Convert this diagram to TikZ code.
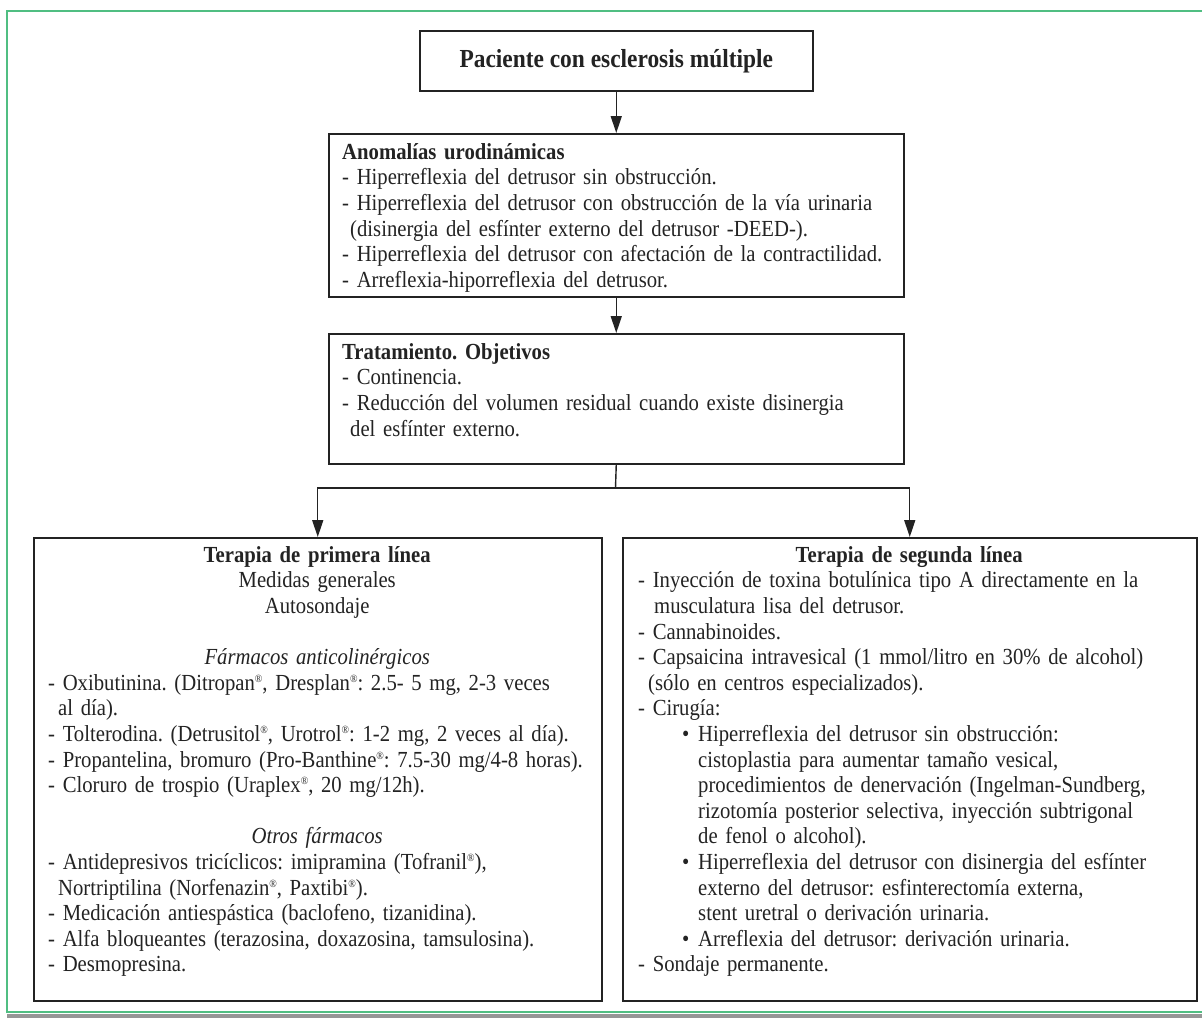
\documentclass[tikz,border=0pt]{standalone}
\usepackage{fontspec}
\setmainfont{Liberation Serif}[FakeStretch=0.9]
\usetikzlibrary{arrows.meta}
\definecolor{frameGreen}{RGB}{80,190,130}
\definecolor{bandGray}{RGB}{150,150,150}
\definecolor{ink}{RGB}{35,35,35}
\setlength{\parindent}{0pt}
\frenchspacing
\newcommand{\regsym}{\raisebox{0.75ex}{\fontsize{11}{11}\selectfont ®}}
\begin{document}
\begin{tikzpicture}[x=1pt,y=-1pt,
  box/.style={draw=ink, line width=1.5pt, fill=white, inner sep=0pt, anchor=north west},
  arr/.style={draw=ink, line width=1.4pt, -{Triangle[length=17pt,width=11pt]}},
  link/.style={draw=ink, line width=1.4pt},
  txt/.style={anchor=north west, inner sep=0pt, align=left, text=ink,
              font=\fontsize{23}{25.6}\selectfont}]
\fill[white] (0,0) rectangle (1202,1018);
\useasboundingbox (0,0) rectangle (1202,1018);
% frame
\draw[frameGreen, line width=2pt] (1202,11) -- (7,11) -- (7,1012) -- (1202,1012);
\fill[bandGray] (7,1013.5) rectangle (1202,1018);

% boxes
\node[box, minimum width=393pt, minimum height=60pt] (top) at (419,30) {};
\node[anchor=center, inner sep=0pt, text=ink, font=\bfseries\fontsize{26}{30}\selectfont] (toptext) at (top.center) {Paciente con esclerosis múltiple};

\node[box, minimum width=575pt, minimum height=163pt] (anom) at (328,133) {};
\node[txt, text width=555pt] (anomtext) at (342,142) {\rule{0pt}{17pt}\textbf{Anomalías urodinámicas}\\
- Hiperreflexia del detrusor sin obstrucción.\\
- Hiperreflexia del detrusor con obstrucción de la vía urinaria\\
\hspace*{8pt}(disinergia del esfínter externo del detrusor -DEED-).\\
- Hiperreflexia del detrusor con afectación de la contractilidad.\\
- Arreflexia-hiporreflexia del detrusor.};

\node[box, minimum width=575pt, minimum height=130pt] (trat) at (328,333) {};
\node[txt, text width=555pt] (trattext) at (342,342) {\rule{0pt}{17pt}\textbf{Tratamiento. Objetivos}\\
- Continencia.\\
- Reducción del volumen residual cuando existe disinergia\\
\hspace*{8pt}del esfínter externo.};

\node[box, minimum width=568pt, minimum height=463pt] (left) at (33,537) {};
\node[txt, text width=560pt] (lefttext) at (48,545) {\rule{0pt}{17pt}\makebox[538pt]{\textbf{Terapia de primera línea}}\\
\makebox[538pt]{Medidas generales}\\
\makebox[538pt]{Autosondaje}\\[25.6pt]
\makebox[538pt]{\textit{Fármacos anticolinérgicos}}\\
- Oxibutinina. (Ditropan\regsym, Dresplan\regsym: 2.5- 5 mg, 2-3 veces\\
\hspace*{10pt}al día).\\
- Tolterodina. (Detrusitol\regsym, Urotrol\regsym: 1-2 mg, 2 veces al día).\\
- Propantelina, bromuro (Pro-Banthine\regsym: 7.5-30 mg/4-8 horas).\\
- Cloruro de trospio (Uraplex\regsym, 20 mg/12h).\\[25.6pt]
\makebox[538pt]{\textit{Otros fármacos}}\\
- Antidepresivos tricíclicos: imipramina (Tofranil\regsym),\\
\hspace*{10pt}Nortriptilina (Norfenazin\regsym, Paxtibi\regsym).\\
- Medicación antiespástica (baclofeno, tizanidina).\\
- Alfa bloqueantes (terazosina, doxazosina, tamsulosina).\\
- Desmopresina.};

\node[box, minimum width=574pt, minimum height=463pt] (right) at (622,537) {};
\node[txt, text width=560pt] (righttext) at (638,545) {\rule{0pt}{17pt}\makebox[542pt]{\textbf{Terapia de segunda línea}}\\
- Inyección de toxina botulínica tipo A directamente en la\\
\hspace*{16pt}musculatura lisa del detrusor.\\
- Cannabinoides.\\
- Capsaicina intravesical (1 mmol/litro en 30\% de alcohol)\\
\hspace*{10pt}(sólo en centros especializados).\\
- Cirugía:\\
\hspace*{44pt}\makebox[16pt][l]{•}Hiperreflexia del detrusor sin obstrucción:\\
\hspace*{60pt}cistoplastia para aumentar tamaño vesical,\\
\hspace*{60pt}procedimientos de denervación (Ingelman-Sundberg,\\
\hspace*{60pt}rizotomía posterior selectiva, inyección subtrigonal\\
\hspace*{60pt}de fenol o alcohol).\\
\hspace*{44pt}\makebox[16pt][l]{•}Hiperreflexia del detrusor con disinergia del esfínter\\
\hspace*{60pt}externo del detrusor: esfinterectomía externa,\\
\hspace*{60pt}stent uretral o derivación urinaria.\\
\hspace*{44pt}\makebox[16pt][l]{•}Arreflexia del detrusor: derivación urinaria.\\
- Sondaje permanente.};

% connectors
\draw[arr] (top.south) -- (anom.north);
\draw[arr] (anom.south) -- (trat.north);
\coordinate (split) at (615.5,488);
\draw[link] (trat.south) -- (split);
\draw[arr] (split) -| (left.north);
\draw[arr] (split) -| (right.north);
\end{tikzpicture}
\end{document}
